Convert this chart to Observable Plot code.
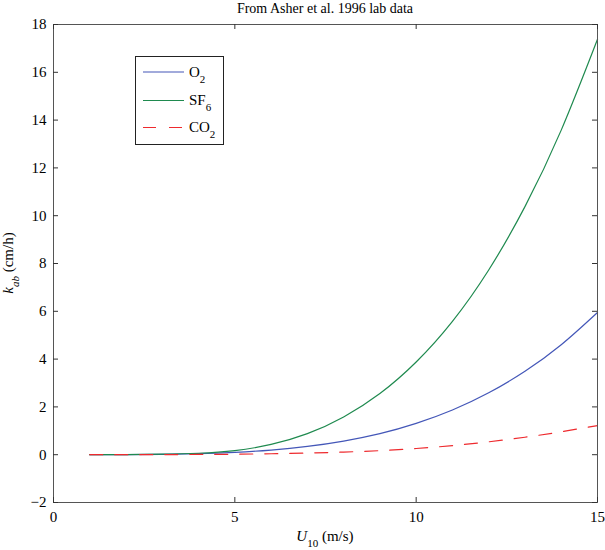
<!DOCTYPE html>
<html>
<head>
<meta charset="utf-8">
<script src="https://cdn.jsdelivr.net/npm/d3@7"></script>
<script src="https://cdn.jsdelivr.net/npm/@observablehq/plot@0.6"></script>
<style>
  html, body { margin: 0; padding: 0; background: #fff; }
  #chart svg { display: block; }
  #chart svg, #chart svg text, #chart svg tspan { font-family: "Liberation Serif", "Times New Roman", serif !important; }
</style>
</head>
<body>
<div id="chart"></div>
<script>
// ---- data ----
const windSpeed = [1, 2, 3, 4, 5, 6, 7, 8, 9, 10, 11, 12, 13, 14, 15];
const kO2  = [0, 0.003, 0.015, 0.043, 0.10, 0.195, 0.345, 0.57, 0.88, 1.31, 1.87, 2.59, 3.49, 4.6, 5.95];
const kSF6 = [0, 0.005, 0.02, 0.06, 0.17, 0.43, 0.88, 1.58, 2.56, 3.88, 5.58, 7.73, 10.38, 13.58, 17.38];
const kCO2 = [0, 0.001, 0.003, 0.01, 0.02, 0.04, 0.07, 0.11, 0.17, 0.26, 0.38, 0.54, 0.73, 0.96, 1.22];
const xTicks = [0, 5, 10, 15];
const yTicks = [-2, 0, 2, 4, 6, 8, 10, 12, 14, 16, 18];
const titleText = "From Asher et al. 1996 lab data";
const legendNames = [["O", "2"], ["SF", "6"], ["CO", "2"]];
const colors = ["#4457b8", "#1f8a4f", "#ee2a2e"];

const W = 605, H = 550;
const mL = 53, mR = 8, mT = 24, mB = 48;
const innerW = W - mL - mR, innerH = H - mT - mB;
const tickLen = 5;
const serif = "Liberation Serif, Times New Roman, serif";

const rows = (vals) => windSpeed.map((u, i) => ({u, k: vals[i]}));
const fmt = d => d < 0 ? "\u2212" + (-d) : String(d);

const chart = Plot.plot({
  width: W, height: H,
  marginLeft: mL, marginRight: mR, marginTop: mT, marginBottom: mB,
  style: {fontFamily: serif, fontSize: "15px", background: "#fff", color: "#000", overflow: "visible"},
  x: {domain: [0, 15]},
  y: {domain: [-2, 18]},
  marks: [
    Plot.line(rows(kO2),  {x: "u", y: "k", stroke: colors[0], strokeWidth: 1.2, curve: "natural"}),
    Plot.line(rows(kSF6), {x: "u", y: "k", stroke: colors[1], strokeWidth: 1.2, curve: "natural"}),
    Plot.line(rows(kCO2), {x: "u", y: "k", stroke: colors[2], strokeWidth: 1.2, curve: "natural", strokeDasharray: "13,12"}),
    Plot.frame({stroke: "#555", strokeWidth: 1}),
    // inward ticks on all four sides
    Plot.tickX(xTicks, {x: d => d, insetTop: innerH - tickLen, stroke: "#333"}),
    Plot.tickX(xTicks, {x: d => d, insetBottom: innerH - tickLen, stroke: "#333"}),
    Plot.tickY(yTicks, {y: d => d, insetRight: innerW - tickLen, stroke: "#333"}),
    Plot.tickY(yTicks, {y: d => d, insetLeft: innerW - tickLen, stroke: "#333"}),
    Plot.axisX({ticks: xTicks, tickSize: 0, tickPadding: 9, label: null, tickFormat: fmt, fontSize: 15}),
    Plot.axisY({ticks: yTicks, tickSize: 0, tickPadding: 7, label: null, tickFormat: fmt, fontSize: 15})
  ]
});
document.getElementById("chart").appendChild(chart);

const svg = d3.select(chart);
const cx = mL + innerW / 2;

// title
svg.append("text")
  .attr("x", cx).attr("y", 13)
  .attr("text-anchor", "middle")
  .attr("font-size", 14)
  .attr("fill", "#000")
  .text(titleText);

// x axis label: U_10 (m/s)
const xl = svg.append("text")
  .attr("x", cx).attr("y", 541)
  .attr("text-anchor", "middle")
  .attr("font-size", 15).attr("fill", "#000");
xl.append("tspan").attr("font-style", "italic").text("U");
xl.append("tspan").attr("font-size", 11).attr("dy", 6).text("10");
xl.append("tspan").attr("dy", -6).text(" (m/s)");

// y axis label: k_ab (cm/h)
const yl = svg.append("text")
  .attr("transform", `translate(13,${mT + innerH / 2}) rotate(-90)`)
  .attr("text-anchor", "middle")
  .attr("font-size", 15).attr("fill", "#000");
yl.append("tspan").attr("font-style", "italic").text("k");
yl.append("tspan").attr("font-style", "italic").attr("font-size", 11).attr("dy", 6).text("ab");
yl.append("tspan").attr("dy", -6).text(" (cm/h)");

// legend
const lg = svg.append("g");
lg.append("rect")
  .attr("x", 135.5).attr("y", 56.5).attr("width", 88).attr("height", 88)
  .attr("fill", "#fff").attr("stroke", "#222").attr("stroke-width", 1);
const rowY = [72, 100.5, 127.5];
legendNames.forEach((nm, i) => {
  const y = rowY[i];
  lg.append("line")
    .attr("x1", 143).attr("x2", 184).attr("y1", y).attr("y2", y)
    .attr("stroke", colors[i]).attr("stroke-width", 1.2)
    .attr("stroke-dasharray", i === 2 ? "13,13" : null);
  const t = lg.append("text")
    .attr("x", 189).attr("y", y + 4.5)
    .attr("text-anchor", "start")
    .attr("font-size", 15).attr("fill", "#000");
  t.append("tspan").text(nm[0]);
  t.append("tspan").attr("font-size", 11).attr("dy", 6).text(nm[1]);
});
</script>
</body>
</html>
